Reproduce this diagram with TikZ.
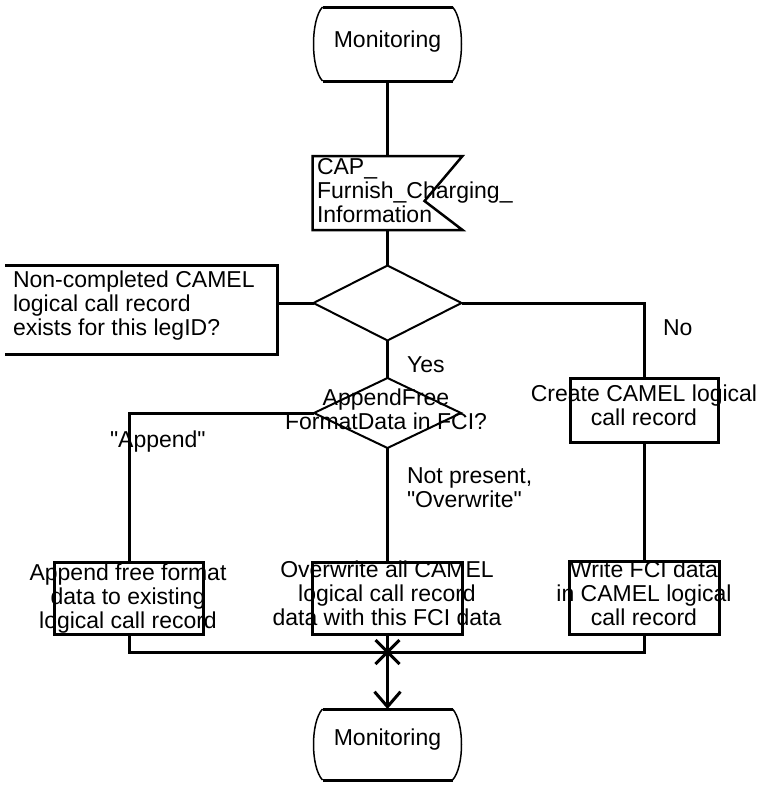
\documentclass[tikz,border=0pt]{standalone}
\usepackage{fontspec}
\setmainfont{Liberation Sans}[Ligatures=TeXOff]
\usetikzlibrary{shapes.geometric,arrows.meta,calc}
\newcommand\ta{\rule{0pt}{16.5pt}}
\newcommand\tz{\rule[-5pt]{0pt}{5pt}}
\begin{document}
\begin{tikzpicture}[x=1pt,y=-1pt,
  every node/.style={inner sep=0pt, outer sep=0pt},
  txt/.style={font=\fontsize{23}{24}\selectfont, text=black},
  frame/.style={draw=black, line width=3pt, rectangle},
  hidden/.style={draw=none, rectangle, inner sep=0pt},
  dia/.style={draw=black, line width=2pt, diamond, inner sep=0pt},
  conn/.style={draw=black, line width=3pt},
  edge/.style={line width=3pt},
  side/.style={line width=1.5pt},
  ]
\useasboundingbox[fill=white] (0,0) rectangle (762,787);

% ---- shapes ----
\node[hidden, minimum width=130pt, minimum height=74pt] (m1) at (387.5,44) {};
\draw[edge] (m1.north west) -- (m1.north east);
\draw[edge] (m1.south west) -- (m1.south east);
\draw[side] (m1.north east) .. controls +(12,13) and +(12,-13) .. (m1.south east);
\draw[side] (m1.north west) .. controls +(-12,13) and +(-12,-13) .. (m1.south west);

\node[hidden, minimum width=150pt, minimum height=74pt] (sig) at (387.5,193) {};
\draw[line width=2.5pt, line join=miter] (sig.north west) -- (sig.north east) -- ($(sig.east)+(-38,8)$) -- (sig.south east) -- (sig.south west) -- cycle;

\node[dia, minimum width=148pt, minimum height=75pt] (d1) at (387.5,303) {};

\node[hidden, minimum width=272pt, minimum height=89pt] (cm) at (141,309.5) {};
\draw[edge, line join=miter] (cm.north west) -- (cm.north east) -- (cm.south east) -- (cm.south west);

\node[dia, minimum width=147pt, minimum height=70pt] (d2) at (387.5,413) {};

\node[frame, minimum width=148pt, minimum height=64pt] (cr) at (644.5,410) {};
\node[frame, minimum width=150pt, minimum height=73pt] (wr) at (644.5,597.5) {};
\node[frame, minimum width=149pt, minimum height=72pt] (ap) at (129,598) {};
\node[frame, minimum width=150pt, minimum height=72pt] (ow) at (387.5,598) {};

\coordinate (j) at (387.5,652);
\draw[edge] ($(j)+(-12,-12)$) -- ($(j)+(12,12)$);
\draw[edge] ($(j)+(12,-12)$) -- ($(j)+(-12,12)$);

\node[hidden, minimum width=130pt, minimum height=71pt] (m2) at (387.5,744.5) {};
\draw[edge] (m2.north west) -- (m2.north east);
\draw[edge] (m2.south west) -- (m2.south east);
\draw[side] (m2.north east) .. controls +(12,13) and +(12,-13) .. (m2.south east);
\draw[side] (m2.north west) .. controls +(-12,13) and +(-12,-13) .. (m2.south west);

% ---- connectors ----
\draw[conn] (m1.south) -- (sig.north);
\draw[conn] (sig.south) -- (d1.north);
\draw[conn] (d1.west) -- (d1.west -| cm.east);
\draw[conn] (d1.east) -| (cr.north);
\draw[conn] (d1.south) -- (d2.north);
\draw[conn] (d2.west) -| (ap.north);
\draw[conn] (d2.south) -- (ow.north);
\draw[conn] (cr.south) -- (wr.north);
\draw[conn] (ap.south) |- (j);
\draw[conn] (wr.south) |- (j);
\draw[conn] (ow.south) -- (j);
\draw[conn, -{Straight Barb[length=15pt,width=26pt]}] (j) -- (m2.north);

% ---- texts ----
\node[txt] (tm1) at (387.5,41.25) {\ta Monitoring\tz};
\node[txt, anchor=west, align=left] (tsig) at (317,192.25) {\ta CAP\_\\Furnish\_Charging\_\\Information\tz};
\node[txt, anchor=west, align=left] (tcm) at (13,305.25) {\ta Non-completed CAMEL\\logical call record\\exists for this legID?\tz};
\node[txt, align=center] (td2) at (386,411.25) {\ta AppendFree\\FormatData in FCI?\tz};
\node[txt, anchor=base west] (tyes) at (407,372) {Yes};
\node[txt, anchor=base west] (tno) at (663,335) {No};
\node[txt, anchor=base west] (tappend) at (110,447) {"Append"};
\node[txt, anchor=west, align=left] (tnp) at (407,489.25) {\ta Not present,\\"Overwrite"\tz};
\node[txt, align=center] (tcr) at (644,407.25) {\ta Create CAMEL logical\\call record\tz};
\node[txt, align=center] (tap) at (128,598.25) {\ta Append free format\\data to existing\\logical call record\tz};
\node[txt, align=center] (tow) at (387,595.75) {\ta Overwrite all CAMEL\\logical call record\\data with this FCI data\tz};
\node[txt, align=center] (twr) at (644,595.75) {\ta Write FCI data\\in CAMEL logical\\call record\tz};
\node[txt] (tm2) at (387.5,739.25) {\ta Monitoring\tz};
\end{tikzpicture}
\end{document}
